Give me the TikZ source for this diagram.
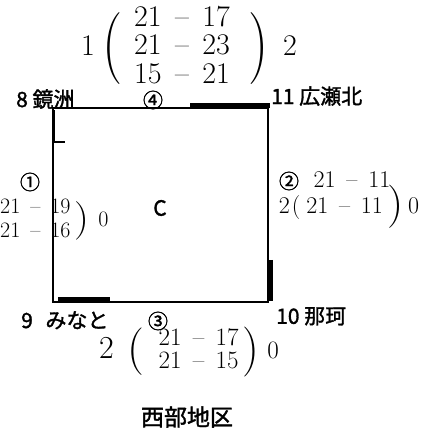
\documentclass[tikz,border=0pt]{standalone}
\usepackage{graphicx}
\usepackage{fontspec}
\newfontfamily\jpfont[AutoFakeBold=1.5]{Noto Sans CJK JP}
\newcommand{\marca}[2]{#1\hspace{0.45em}--\hspace{0.45em}#2}
\newcommand{\pari}[1]{$\vcenter{\hbox{\scalebox{1.9}[#1]{(}}}$}
\newcommand{\pard}[1]{$\vcenter{\hbox{\scalebox{1.9}[#1]{)}}}$}
\usepackage{tikz}
\usetikzlibrary{positioning}

\begin{document}
\begin{tikzpicture}[x=1pt, y=-1pt,
    esquina/.style={font=\jpfont\bfseries\fontsize{21}{23}\selectfont, inner sep=0pt},
    circulo/.style={font=\jpfont\bfseries\fontsize{20}{22}\selectfont, inner sep=0pt},
    puntos/.style={inner sep=0pt},
    grueso/.style={line width=5pt}]
      \useasboundingbox (0,0) rectangle (441,435);

      % Cancha
      \coordinate (A) at (53,108);
      \coordinate (B) at (268,108);
      \coordinate (Cc) at (268,302);
      \coordinate (D) at (53,302);
      \draw[line width=1.3pt] (A) -- (B) -- (Cc) -- (D) -- cycle;

      % Trazos gruesos
      \draw[grueso] (190,105.5) -- (270,105.5);
      \draw[line width=3pt] (53,110) -- (53,142);
      \draw[line width=1.3pt] (53,142) -- (65,142);
      \draw[grueso] (58,299) -- (110,299);
      \draw[grueso] (270.5,260) -- (270.5,301);

      % Equipos
      \node[esquina, anchor=south west] (kagami) at (16,109) {8 鏡洲};
      \node[esquina, anchor=south west] (hirose) at (271,106) {11 広瀬北};
      \node[esquina, anchor=north west] (minato) at (21,311) {9\hspace{0.6em}みなと};
      \node[esquina, anchor=north west] (naka) at (276,307) {10 那珂};
      \node[esquina] (centro) at (160,208) {C};

      % Partidos
      \node[circulo] (p1) at (30,182) {①};
      \node[circulo] (p2) at (289,181) {②};
      \node[circulo] (p3) at (158,321) {③};
      \node[circulo] (p4) at (153,100) {④};

      % Marcadores
      \node[puntos, font=\fontsize{30}{28.5}\selectfont] (m4) at (189,49)
        {1\hspace{8pt}\pari{2.4}\hspace{11pt}\begin{tabular}{@{}c@{}}\marca{21}{17}\\\marca{21}{23}\\\marca{15}{21}\end{tabular}\hspace{19pt}\pard{2.4}\hspace{14pt}2};
      \node[puntos, font=\fontsize{22}{24}\selectfont, anchor=west] (m1) at (0,221)
        {\begin{tabular}{@{}c@{}}\marca{21}{19}\\\marca{21}{16}\end{tabular}\hspace{4pt}\pard{1.75}\hspace{9pt}0};
      \node[puntos, font=\fontsize{24}{24}\selectfont] (m2a) at (352,180) {\marca{21}{11}};
      \node[puntos, font=\fontsize{24}{24}\selectfont] (m2b) at (349,207)
        {2\hspace{2pt}(\hspace{6pt}\marca{21}{11}\hspace{4pt}\pard{1.8}\hspace{5pt}0};
      \node[puntos, font=\fontsize{25}{22}\selectfont] (m3) at (189,352)
        {{\fontsize{32}{32}\selectfont 2}\hspace{14pt}\pari{1.9}\hspace{14pt}\begin{tabular}{@{}c@{}}\marca{21}{17}\\\marca{21}{15}\end{tabular}\hspace{4pt}\pard{2}\hspace{8pt}0};

      % Titulo
      \node[esquina, font=\jpfont\bfseries\fontsize{23}{25}\selectfont] (titulo) at (187,417) {西部地区};
    \end{tikzpicture}
\end{document}
